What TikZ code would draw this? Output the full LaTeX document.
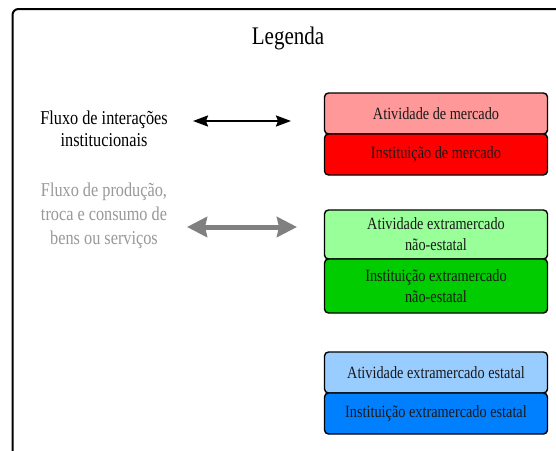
\documentclass[tikz,border=0pt]{standalone}
\usepackage{fontspec}
\setmainfont{Liberation Serif}[FakeStretch=0.83]
\usetikzlibrary{arrows.meta}
\definecolor{mktA}{HTML}{FF9999}
\definecolor{mktI}{HTML}{FF0000}
\definecolor{nsA}{HTML}{99FF99}
\definecolor{nsI}{HTML}{00CC00}
\definecolor{stA}{HTML}{99CCFF}
\definecolor{stI}{HTML}{0080FF}
\definecolor{grayflow}{HTML}{808080}
\definecolor{graytext}{HTML}{999999}
\tikzset{
  legbox/.style={draw=black, line width=1.4pt, rounded corners=4pt, minimum width=223pt, inner sep=0pt, align=center, font=\fontsize{17.2}{21}\selectfont, text=black!90},
  lefttext/.style={align=center, font=\fontsize{19.6}{22.5}\selectfont},
}
\begin{document}
\begin{tikzpicture}[x=1pt,y=-1pt]
\useasboundingbox (0,0) rectangle (556,450);
\clip (0,0) rectangle (556,450);
\fill[white] (0,0) rectangle (556,450);
\draw[line width=2pt, rounded corners=6pt] (12.5,480) -- (12.5,9) -- (600,9) -- (600,480);
\node[font=\fontsize{25.3}{28}\selectfont] (title) at (288,38) {Legenda};

\node[lefttext] (t1) at (104,129) {Fluxo de interações\\institucionais};
\node[lefttext, text=graytext, font=\fontsize{19.6}{24}\selectfont] (t2) at (104,216) {Fluxo de produção,\\troca e consumo de\\bens ou serviços};

\coordinate (a1l) at (193,121);
\coordinate (a1r) at (291,121);
\draw[line width=2pt, {Stealth[length=15pt,width=11pt,inset=2pt]}-{Stealth[length=15pt,width=11pt,inset=2pt]}] (a1l) -- (a1r);
\coordinate (a2l) at (187,227);
\coordinate (a2r) at (297,227);
\draw[grayflow, line width=5pt, {Stealth[length=20pt,width=20pt,inset=2pt]}-{Stealth[length=20pt,width=20pt,inset=2pt]}] (a2l) -- (a2r);

\node[legbox, fill=mktA, minimum height=41pt] (b1) at (436,113.5) {Atividade de mercado};
\node[legbox, fill=mktI, minimum height=41pt] (b2) at (436,154.5) {Instituição de mercado};
\node[legbox, fill=nsA, minimum height=49pt] (b3) at (436,234.5) {Atividade extramercado\\não-estatal};
\node[legbox, fill=nsI, minimum height=54pt] (b4) at (436,286) {Instituição extramercado\\não-estatal};
\node[legbox, fill=stA, minimum height=41pt] (b5) at (436,372.5) {Atividade extramercado estatal};
\node[legbox, fill=stI, minimum height=41pt] (b6) at (436,413.5) {Instituição extramercado estatal};
\end{tikzpicture}
\end{document}
